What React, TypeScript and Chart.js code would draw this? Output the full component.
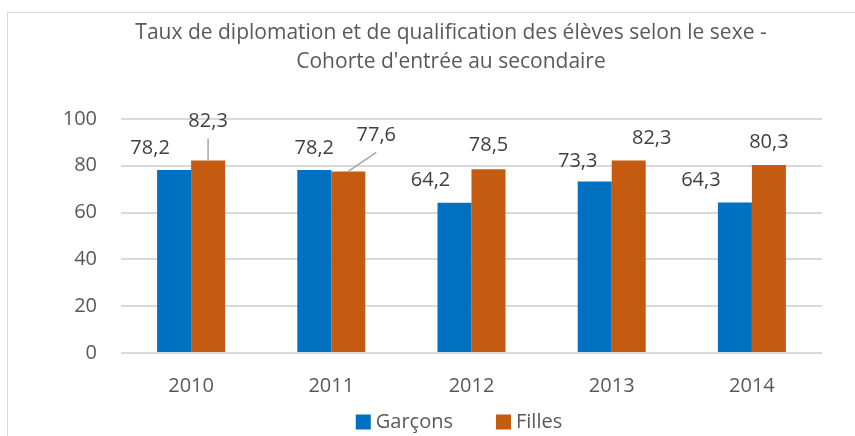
import React, { useEffect, useRef } from "react";
import { Chart, registerables } from "chart.js";

Chart.register(...registerables);

const categories = ["2010", "2011", "2012", "2013", "2014"];
const garcons = [78.2, 78.2, 64.2, 73.3, 64.3];
const filles = [82.3, 77.6, 78.5, 82.3, 80.3];
const titleLines = [
  "Taux de diplomation et de qualification des élèves selon le sexe -",
  "Cohorte d'entrée au secondaire",
];
const seriesNames = ["Garçons", "Filles"];

// label placement (pixels relative to bar top centre) — layout only
const labelOffsets: number[][][] = [
  [[-24, -22], [0, -22], [-24, -22], [-17, -20], [-34, -22]],
  [[0, -39], [28, -36], [0, -24], [23, -22], [0, -23]],
];
const leaderLines: boolean[][] = [
  [false, false, false, false, false],
  [true, true, false, false, false],
];

const FONT = "'Open Sans', 'DejaVu Sans', sans-serif";

const fmt = (v: number) => v.toFixed(1).replace(".", ",");

const labelPlugin = {
  id: "barLabels",
  afterDatasetsDraw(chart: any) {
    const ctx = chart.ctx;
    ctx.save();
    ctx.font = `20px ${FONT}`;
    ctx.textAlign = "center";
    ctx.textBaseline = "middle";
    chart.data.datasets.forEach((ds: any, di: number) => {
      const meta = chart.getDatasetMeta(di);
      meta.data.forEach((bar: any, i: number) => {
        const v = ds.data[i] as number;
        const [dx, dy] = labelOffsets[di][i];
        const lx = bar.x + dx;
        const ly = bar.y + dy;
        if (leaderLines[di][i]) {
          ctx.strokeStyle = "#a6a6a6";
          ctx.lineWidth = 1.5;
          ctx.beginPath();
          ctx.moveTo(lx, ly + 17);
          ctx.lineTo(bar.x, bar.y);
          ctx.stroke();
        }
        ctx.fillStyle = "#404040";
        ctx.fillText(fmt(v), lx, ly);
      });
    });
    ctx.restore();
  },
};

const legendPlugin = {
  id: "bottomLegend",
  afterDraw(chart: any) {
    const ctx = chart.ctx;
    ctx.save();
    ctx.font = `20px ${FONT}`;
    ctx.textBaseline = "middle";
    ctx.textAlign = "left";
    const box = 15;
    const gapText = 5;
    const gapItem = 43;
    const items = chart.data.datasets.map((ds: any) => ({
      text: ds.label as string,
      color: ds.backgroundColor as string,
      w: ctx.measureText(ds.label).width as number,
    }));
    const total =
      items.reduce((s: number, it: any) => s + box + gapText + it.w, 0) +
      gapItem * (items.length - 1);
    let x = chart.width / 2 + 8 - total / 2;
    const y = chart.height - 20;
    items.forEach((it: any) => {
      ctx.fillStyle = it.color;
      ctx.fillRect(x, y - box / 2, box, box);
      ctx.fillStyle = "#595959";
      ctx.fillText(it.text, x + box + gapText, y);
      x += box + gapText + it.w + gapItem;
    });
    ctx.restore();
  },
};

export default function App() {
  const ref = useRef<HTMLCanvasElement>(null);

  useEffect(() => {
    if (!ref.current) return;
    const chart = new Chart(ref.current, {
      type: "bar",
      data: {
        labels: categories,
        datasets: [
          {
            label: seriesNames[0],
            data: garcons,
            backgroundColor: "#0070C0",
            barPercentage: 1,
            categoryPercentage: 0.485,
          },
          {
            label: seriesNames[1],
            data: filles,
            backgroundColor: "#C55A11",
            barPercentage: 1,
            categoryPercentage: 0.485,
          },
        ],
      },
      options: {
        responsive: false,
        animation: false,
        events: [],
        layout: { padding: { left: 0, right: 0, top: 0, bottom: 43 } },
        scales: {
          x: {
            grid: { display: false, drawTicks: false },
            border: { display: false },
            ticks: {
              color: "#595959",
              font: { family: FONT, size: 20 },
              padding: 21,
            },
            afterFit: (s: any) => {
              s.height = 46;
            },
          },
          y: {
            min: 0,
            max: 100,
            ticks: {
              stepSize: 20,
              color: "#595959",
              font: { family: FONT, size: 20 },
              padding: 24,
            },
            grid: { color: "#d9d9d9", lineWidth: 2, drawTicks: false },
            border: { display: false },
            afterFit: (s: any) => {
              s.width = 113;
            },
          },
          y2: {
            position: "right",
            min: 0,
            max: 100,
            grid: { display: false, drawTicks: false },
            ticks: { display: false },
            border: { display: false },
            afterFit: (s: any) => {
              s.width = 72;
            },
          },
        },
        plugins: {
          title: {
            display: true,
            text: titleLines,
            color: "#595959",
            font: { family: FONT, size: 21, weight: "normal", lineHeight: 1.38 },
            padding: { top: 5.5, bottom: 42.5 },
          },
          legend: { display: false },
          tooltip: { enabled: false },
        },
      } as any,
      plugins: [labelPlugin, legendPlugin],
    });
    return () => chart.destroy();
  }, []);

  return (
    <div
      style={{
        position: "fixed",
        left: 7,
        top: 12,
        width: 848,
        height: 424,
        overflow: "hidden",
        borderTop: "1px solid #d9d9d9",
        borderLeft: "1px solid #d9d9d9",
        background: "#fff",
      }}
    >
      <canvas ref={ref} width={886} height={429} style={{ display: "block", width: 886, height: 429 }} />
    </div>
  );
}
